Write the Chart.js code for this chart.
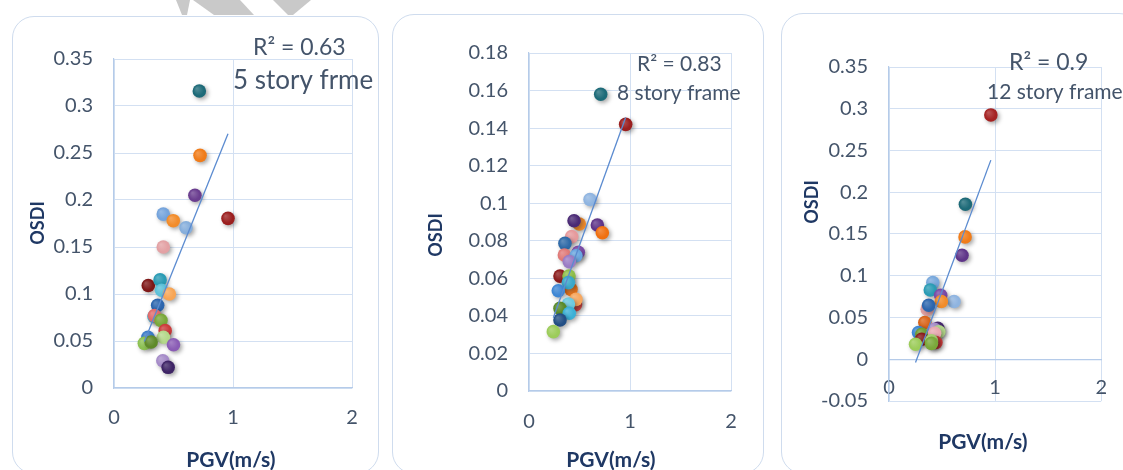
<!DOCTYPE html>
<html>
<head>
<meta charset="utf-8">
<script src="https://cdn.jsdelivr.net/npm/chart.js@4.4.1/dist/chart.umd.min.js"></script>
<style>
  html, body { margin: 0; padding: 0; background: #fff; }
  body { width: 1123px; height: 470px; position: relative; overflow: hidden; }
  .card { position: absolute; border: 1.5px solid #cfdcee; border-radius: 22px; box-sizing: border-box; background: #fff; }
  canvas { position: absolute; top: 0; }
  svg { position: absolute; left: 0; top: 0; }
</style>
</head>
<body>
<div class="card" style="left:12px;top:16px;width:367px;height:458px"></div>
<div class="card" style="left:392px;top:14px;width:372px;height:460px"></div>
<div class="card" style="left:781px;top:13px;width:360px;height:461px"></div>
<svg width="1123" height="20">
  <polygon points="176,0 190,0 187,15 182,15" fill="#c9c9c9"/>
  <polygon points="193,0 240,0 254,15 214,15" fill="#c9c9c9"/>
  <polygon points="273,0 311,0 293,15 288,15" fill="#c9c9c9"/>
</svg>
<canvas id="c5" width="380" height="470" style="left:0"></canvas>
<canvas id="c8" width="390" height="470" style="left:380px"></canvas>
<canvas id="c12" width="353" height="470" style="left:770px"></canvas>
<script>
// PGV (m/s) and OSDI for each frame height
const pgv5  = [0.717, 0.723, 0.68, 0.958, 0.414, 0.498, 0.605, 0.414, 0.288, 0.387, 0.40, 0.465,
               0.367, 0.336, 0.34, 0.395, 0.43, 0.415, 0.50, 0.285, 0.255, 0.312, 0.41, 0.455];
const osdi5 = [0.316, 0.2475, 0.205, 0.1805, 0.185, 0.178, 0.1705, 0.150, 0.109, 0.115, 0.104, 0.100,
               0.088, 0.076, 0.077, 0.072, 0.061, 0.054, 0.046, 0.054, 0.0475, 0.049, 0.029, 0.022];

const pgv8  = [0.71, 0.957, 0.604, 0.498, 0.446, 0.677, 0.726, 0.423, 0.356, 0.488, 0.35, 0.465,
               0.399, 0.307, 0.396, 0.416, 0.39, 0.29, 0.46, 0.465, 0.39, 0.307, 0.399, 0.307, 0.241];
const osdi8 = [0.158, 0.142, 0.102, 0.0889, 0.0907, 0.0884, 0.0843, 0.0822, 0.0786, 0.0739, 0.0724, 0.072,
               0.0689, 0.0612, 0.0612, 0.0541, 0.0577, 0.0534, 0.046, 0.0488, 0.0463, 0.044, 0.0414, 0.0378, 0.0316];

const pgv12  = [0.96, 0.72, 0.717, 0.688, 0.413, 0.389, 0.487, 0.613, 0.493, 0.36, 0.374, 0.338,
                0.46, 0.428, 0.278, 0.31, 0.47, 0.43, 0.308, 0.442, 0.40, 0.25, 0.40];
const osdi12 = [0.2926, 0.1856, 0.1465, 0.1246, 0.0918, 0.083, 0.0766, 0.0691, 0.0691, 0.06, 0.0647, 0.044,
                0.037, 0.036, 0.032, 0.030, 0.033, 0.031, 0.024, 0.020, 0.022, 0.018, 0.019];

// axis ticks
const pgvTicks    = [0, 1, 2];
const osdiTicks5  = [0, 0.05, 0.1, 0.15, 0.2, 0.25, 0.3, 0.35];
const osdiTicks8  = [0, 0.02, 0.04, 0.06, 0.08, 0.1, 0.12, 0.14, 0.16, 0.18];
const osdiTicks12 = [-0.05, 0, 0.05, 0.1, 0.15, 0.2, 0.25, 0.3, 0.35];

// chart captions
const r2Labels    = ['R\u00B2 = 0.63', 'R\u00B2 = 0.83', 'R\u00B2 = 0.9'];
const frameLabels = ['5 story frme', '8 story frame', '12 story frame'];
const xTitle = 'PGV(m/s)';
const yTitle = 'OSDI';

// per-point marker colours
const colors5 = ['#1d6a78', '#f07c1a', '#6a3d8f', '#9b1f1f', '#75a4dc', '#f28c2a', '#86aedb', '#e3a1a4',
                 '#7f1818', '#2a9bb4', '#5bc0d8', '#f7a555', '#2c65ad', '#4eb3d3', '#e06a6a', '#7aa83a',
                 '#cc3b3b', '#b4d98a', '#8a5cb5', '#3b7bc8', '#8cc152', '#5f8a2a', '#a58bc8', '#3e2465'];
const colors8 = ['#1d6a78', '#9b1f1f', '#8fb4e0', '#f28c2a', '#4a2a75', '#5f3589', '#f07010', '#e69a9c',
                 '#2f6aa8', '#7a4aa6', '#e07a78', '#6aa6e0', '#9a7cc4', '#8a1c1c', '#8fbf4a', '#e8741c',
                 '#3aa7c8', '#3d86d4', '#d04545', '#f7a860', '#6cc9e0', '#5a8a2a', '#3bb0d6', '#234f85', '#9ccc5a'];
const colors12 = ['#a52222', '#1d6a78', '#f07c1a', '#5f3589', '#78a8dc', '#2a9bb4', '#7a4aa6', '#8fb4e0',
                  '#f28c2a', '#e3a1a4', '#2c65ad', '#d9641a', '#4a2a75', '#a58bc8', '#3d86d4', '#6f9e34',
                  '#b4d98a', '#e8a8b0', '#8a1c1c', '#cc3b3b', '#a6d070', '#9ccc5a', '#7aa83a'];

const TICK_COLOR = '#44546a';
const TITLE_COLOR = '#1f3864';
const GRID_COLOR = '#d3e0f2';
const AXIS_COLOR = '#b5cbe9';
const FONT = 'Lato, "Open Sans", sans-serif';
const DOT_R = 6.8;

// least-squares linear trend across the observed PGV range
function linearTrend(xs, ys) {
  const n = xs.length;
  const mx = xs.reduce((a, b) => a + b, 0) / n;
  const my = ys.reduce((a, b) => a + b, 0) / n;
  let sxy = 0, sxx = 0;
  for (let i = 0; i < n; i++) {
    sxy += (xs[i] - mx) * (ys[i] - my);
    sxx += (xs[i] - mx) * (xs[i] - mx);
  }
  const slope = sxy / sxx, icpt = my - slope * mx;
  const lo = Math.min(...xs), hi = Math.max(...xs);
  return [{ x: lo, y: icpt + slope * lo }, { x: hi, y: icpt + slope * hi }];
}

// lighter tint of a hex colour
function tint(hex, k) {
  const n = parseInt(hex.slice(1), 16);
  const ch = [(n >> 16) & 255, (n >> 8) & 255, n & 255].map(c => Math.round(c + (255 - c) * k));
  return 'rgb(' + ch.join(',') + ')';
}

// slightly glossy marker fill
function dotFill(colors) {
  return c => {
    const base = colors[c.dataIndex % colors.length];
    if (!c.raw || !c.chart.chartArea) return base;
    const sx = c.chart.scales.x, sy = c.chart.scales.y;
    if (!sx || !sy) return base;
    const px = sx.getPixelForValue(c.raw.x), py = sy.getPixelForValue(c.raw.y);
    if (!Number.isFinite(px) || !Number.isFinite(py)) return base;
    const g = c.chart.ctx.createRadialGradient(px - 2.5, py - 2.5, 0.5, px, py, DOT_R);
    g.addColorStop(0, tint(base, 0.22));
    g.addColorStop(0.75, base);
    g.addColorStop(1, base);
    return g;
  };
}

// soft drop shadow under the markers
const dotShadow = {
  id: 'dotShadow',
  beforeDatasetDraw(chart, args) {
    if (args.meta.type !== 'scatter') return;
    const ctx = chart.ctx;
    ctx.save();
    ctx.shadowColor = 'rgba(0,0,0,0.35)';
    ctx.shadowBlur = 4;
    ctx.shadowOffsetX = 2;
    ctx.shadowOffsetY = 2;
  },
  afterDatasetDraw(chart, args) {
    if (args.meta.type !== 'scatter') return;
    chart.ctx.restore();
  }
};

// captions and axis titles
const panelText = {
  id: 'panelText',
  afterDraw(chart, args, opts) {
    const ctx = chart.ctx;
    ctx.save();
    ctx.textBaseline = 'middle';
    for (const t of opts.items) {
      ctx.save();
      ctx.font = t.font;
      ctx.fillStyle = t.color;
      ctx.textAlign = t.align;
      ctx.translate(t.x, t.y);
      if (t.rotate) ctx.rotate(-Math.PI / 2);
      ctx.fillText(t.text, 0, 0);
      ctx.restore();
    }
    ctx.restore();
  }
};

function panel(id, xs, ys, colors, yTicks, g) {
  const items = [
    { text: g.r2, x: g.r2At[0], y: g.r2At[1], font: g.r2Size + 'px ' + FONT, color: TICK_COLOR, align: 'left' },
    { text: g.frame, x: g.frameAt[0], y: g.frameAt[1], font: g.frameSize + 'px ' + FONT, color: TICK_COLOR, align: 'left' },
    { text: yTitle, x: g.yTitleAt[0], y: g.yTitleAt[1], font: 'bold 18px ' + FONT, color: TITLE_COLOR, align: 'center', rotate: true },
    { text: xTitle, x: g.xTitleAt[0], y: g.xTitleAt[1], font: 'bold 21px ' + FONT, color: TITLE_COLOR, align: 'center' }
  ];
  return new Chart(document.getElementById(id), {
    type: 'scatter',
    data: {
      datasets: [
        { type: 'line', data: linearTrend(xs, ys), borderColor: '#5b8bd0', borderWidth: 1.3,
          pointRadius: 0, fill: false, order: 0 },
        { type: 'scatter', data: xs.map((x, i) => ({ x, y: ys[i] })), pointRadius: DOT_R,
          pointBackgroundColor: dotFill(colors), pointBorderWidth: 0, order: 1 }
      ]
    },
    options: {
      responsive: false,
      animation: false,
      events: [],
      layout: { padding: g.pad },
      plugins: { legend: { display: false }, tooltip: { enabled: false }, panelText: { items } },
      scales: {
        x: {
          type: 'linear', min: 0, max: 2, position: g.xPos,
          afterBuildTicks: s => { s.ticks = pgvTicks.map(v => ({ value: v })); },
          afterFit: s => { s.height = g.xH; },
          grid: { color: GRID_COLOR, drawTicks: false },
          border: { color: AXIS_COLOR, width: 1.2 },
          ticks: { color: TICK_COLOR, font: { family: FONT, size: 20 }, padding: g.xTickPad,
                   maxRotation: 0, autoSkip: false, callback: v => String(v) },
          title: { display: false }
        },
        y: {
          type: 'linear', min: yTicks[0], max: yTicks[yTicks.length - 1],
          afterBuildTicks: s => { s.ticks = yTicks.map(v => ({ value: v })); },
          afterFit: s => { s.width = g.yW; },
          grid: { color: GRID_COLOR, drawTicks: false },
          border: { color: AXIS_COLOR, width: 1.2 },
          ticks: { color: TICK_COLOR, font: { family: FONT, size: 20 }, padding: 21,
                   autoSkip: false, callback: v => String(v) },
          title: { display: false }
        }
      }
    },
    plugins: [dotShadow, panelText]
  });
}

panel('c5', pgv5, osdi5, colors5, osdiTicks5, {
  pad: { left: 14, right: 28, top: 59, bottom: 0 }, yW: 100, xH: 82, xTickPad: 18, xPos: 'bottom',
  r2: r2Labels[0], r2At: [253, 48], r2Size: 23,
  frame: frameLabels[0], frameAt: [233, 81], frameSize: 26,
  yTitleAt: [38, 223], xTitleAt: [231, 460]
});

panel('c8', pgv8, osdi8, colors8, osdiTicks8, {
  pad: { left: 14, right: 39, top: 53, bottom: 0 }, yW: 135, xH: 79, xTickPad: 19, xPos: 'bottom',
  r2: r2Labels[1], r2At: [257, 64], r2Size: 21,
  frame: frameLabels[1], frameAt: [237, 93], frameSize: 21,
  yTitleAt: [56, 235], xTitleAt: [231, 460]
});

// the PGV axis of the tallest frame crosses at OSDI = 0
panel('c12', pgv12, osdi12, colors12, osdiTicks12, {
  pad: { left: 14, right: 11, top: 67, bottom: 69 }, yW: 105, xH: 40, xTickPad: 16, xPos: { y: 0 },
  r2: r2Labels[2], r2At: [239, 63], r2Size: 23,
  frame: frameLabels[2], frameAt: [217, 92], frameSize: 21,
  yTitleAt: [42, 202], xTitleAt: [213, 442]
});
</script>
</body>
</html>
